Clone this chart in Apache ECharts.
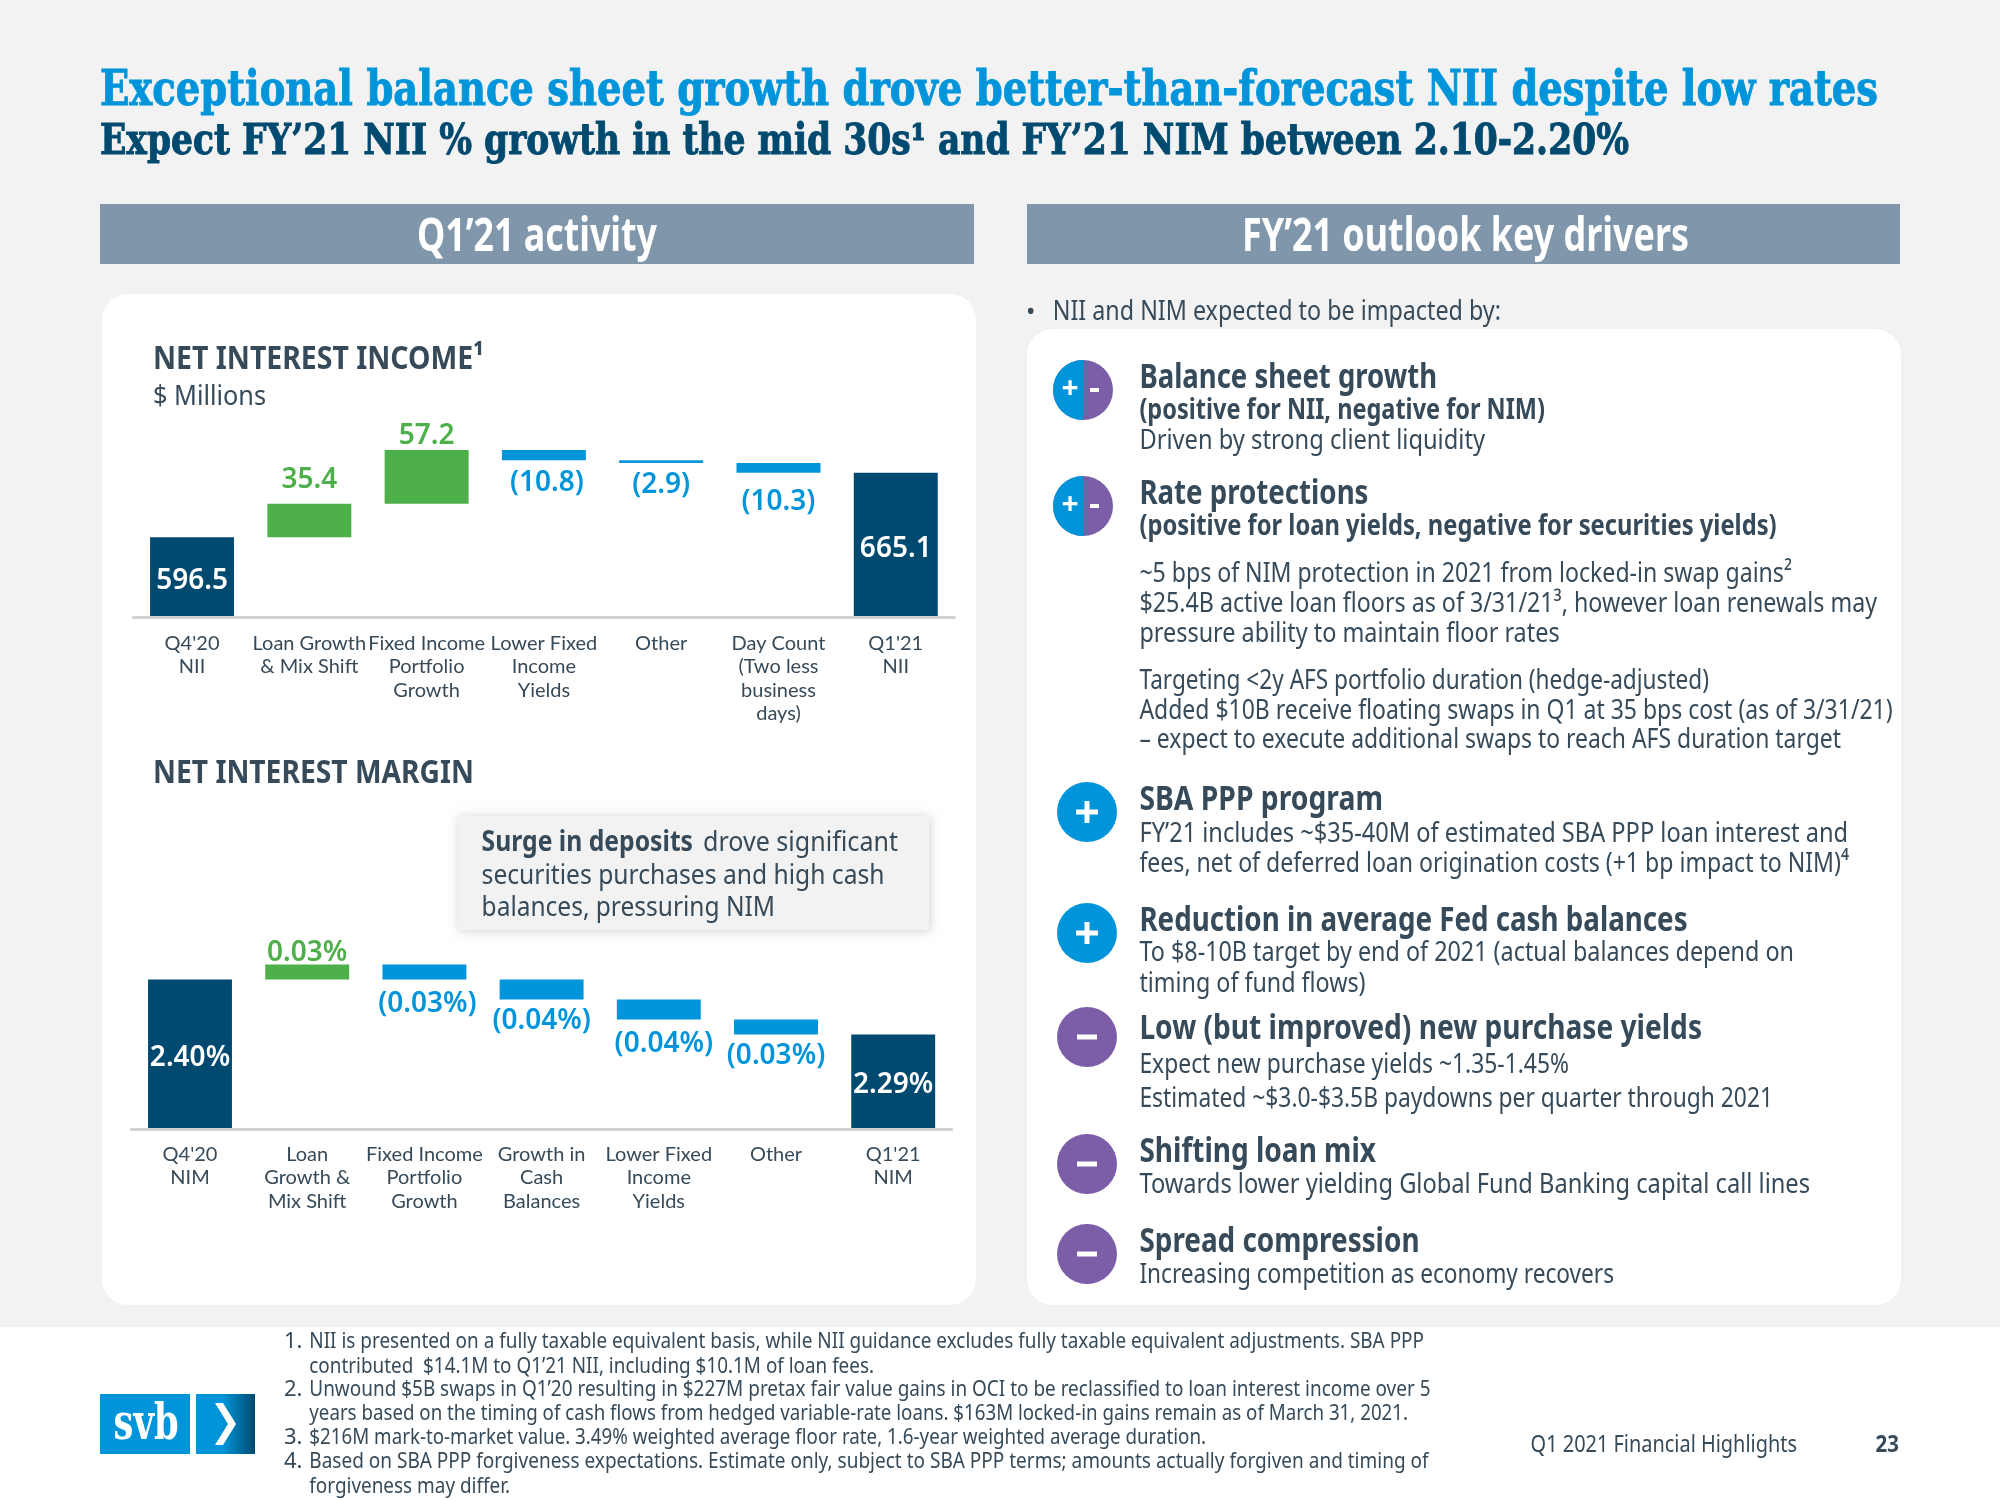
<!DOCTYPE html>
<html><head><meta charset="utf-8">
<style>html,body{margin:0;padding:0;background:#f2f2f2}#c{width:2000px;height:1500px}</style>
<script src="https://cdn.jsdelivr.net/npm/echarts@6/dist/echarts.min.js"></script>
</head><body><div id="c"></div>
<script>
// ---------- data ----------
const niiCategories = ["Q4'20\nNII","Loan Growth\n& Mix Shift","Fixed Income\nPortfolio\nGrowth","Lower Fixed\nIncome\nYields","Other","Day Count\n(Two less\nbusiness\ndays)","Q1'21\nNII"];
const niiBase     = [null,596.5,631.9,678.3,675.4,665.1,null];
const niiTotals   = [596.5,null,null,null,null,null,665.1];
const niiIncrease = [null,35.4,57.2,null,null,null,null];
const niiDecrease = [null,null,null,10.8,2.9,10.3,null];
const niiLabels   = ["596.5","35.4","57.2","(10.8)","(2.9)","(10.3)","665.1"];

const nimCategories = ["Q4'20\nNIM","Loan\nGrowth &\nMix Shift","Fixed Income\nPortfolio\nGrowth","Growth in\nCash\nBalances","Lower Fixed\nIncome\nYields","Other","Q1'21\nNIM"];
const nimBase     = [null,2.40,2.40,2.36,2.32,2.29,null];
const nimTotals   = [2.40,null,null,null,null,null,2.29];
const nimIncrease = [null,0.03,null,null,null,null,null];
const nimDecrease = [null,null,0.03,0.04,0.04,0.03,null];
const nimLabels   = ["2.40%","0.03%","(0.03%)","(0.04%)","(0.04%)","(0.03%)","2.29%"];

// ---------- label placement (layout only) ----------
const niiLabelDist = [0,12,3,8,7,14,0];
const niiLabelDx   = [0,0,0,3,0,0,0];
const niiLabelDy   = [4,1,2,2,2,2,4];
const nimLabelDist = [0,0,9,6,9,6,0];
const nimLabelDx   = [0,0,3,0,5,0,0];
const nimLabelDy   = [3,1,2,2,2,2,3];

// ---------- palette ----------
const NAVY='#004A70', BLUE='#0095DA', GREEN='#4DB04A', PURPLE='#7B5EA7', INK='#364A59', BAND='#7F96AB', BG='#F2F2F2';
const SANS='"Noto Sans"', SERIF='"DejaVu Serif"';

// ---------- fitted text helper ----------
const mctx=document.createElement('canvas').getContext('2d');
function T(x,base,text,size,color,weight,right,dy,stroke){
  const w=weight||'normal';
  const fam=T.family||SANS;
  mctx.font=w+' '+size+'px '+fam;
  const m=mctx.measureText(text).width;
  const st={text:text,x:0,y:0,fill:color||INK,fontFamily:fam.replace(/"/g,''),fontSize:size,fontWeight:w,textAlign:'left',textVerticalAlign:'middle'};
  if(stroke){st.stroke=color;st.lineWidth=stroke;}
  return {type:'text',x:x,y:base-0.36*size+(dy==null?2:dy),scaleX:right?(right-x)/m:1,z:20,silent:true,style:st};
}
function Tserif(x,base,text,size,color,weight,right,dy,stroke){T.family=SERIF;const r=T(x,base,text,size,color,weight,right,dy,stroke);T.family=SANS;return r;}
function C(cx,cy,text,size,color,weight){
  return {type:'text',x:cx,y:cy,z:22,silent:true,style:{text:text,fill:color,fontFamily:'Noto Sans',fontSize:size,fontWeight:weight||'bold',textAlign:'center',textVerticalAlign:'middle'}};
}
function R(x,y,w,h,fill,r,extra){
  return {type:'rect',z:1,silent:true,shape:{x:x,y:y,width:w,height:h,r:r||0},style:Object.assign({fill:fill},extra||{})};
}
function icon(cx,cy,kind){
  const r=30, out=[];
  if(kind==='both'){
    out.push({type:'circle',z:5,silent:true,shape:{cx:cx,cy:cy,r:r},style:{fill:PURPLE}});
    out.push({type:'sector',z:6,silent:true,shape:{cx:cx,cy:cy,r:r,r0:0,startAngle:Math.PI/2,endAngle:Math.PI*1.5},style:{fill:BLUE}});
    out.push(C(cx-13,cy-1,'+',30,'#fff','bold'));
    const d=R(cx+7,cy-2,9,4,'#fff');d.z=22;out.push(d);
  }else{
    out.push({type:'circle',z:5,silent:true,shape:{cx:cx,cy:cy,r:r},style:{fill:kind==='+'?BLUE:PURPLE}});
    if(kind==='+'){
      const a=R(cx-11,cy-2.5,22,5,'#fff'),b=R(cx-2.5,cy-11,5,22,'#fff');a.z=b.z=22;out.push(a,b);
    }else{
      const a=R(cx-10,cy-2.5,20,5,'#fff');a.z=22;out.push(a);
    }
  }
  return out;
}

// ---------- slide furniture ----------
const g=[];
g.push(R(0,1327,2000,173,'#FFFFFF'));
g.push(R(100,204,874,60,BAND));
g.push(R(1027,204,873,60,BAND));
g.push(R(102,294,874,1011,'#FFFFFF',26));
g.push(R(1027,329,874,976,'#FFFFFF',26));
{const s=R(458,816,471,114,BG,0,{shadowBlur:10,shadowColor:'rgba(0,0,0,0.18)',shadowOffsetX:1,shadowOffsetY:1});s.z=3;g.push(s);}
// titles
g.push(Tserif(100,105,'Exceptional balance sheet growth drove better-than-forecast NII despite low rates',48,BLUE,'bold',1878,5,1));
g.push(Tserif(100,154,'Expect FY’21 NII % growth in the mid 30s¹ and FY’21 NIM between 2.10-2.20%',42,NAVY,'bold',1629,4,1));
g.push(T(417,250,'Q1’21 activity',46,'#FFFFFF','bold',657,4));
g.push(T(1242,250,'FY’21 outlook key drivers',46,'#FFFFFF','bold',1689,4));
// left text
g.push(T(153,369,'NET INTEREST INCOME¹',33,INK,'bold',484));
g.push(T(153,404,'$ Millions',28,INK,'normal',266,3));
g.push(T(153,782,'NET INTEREST MARGIN',33,INK,'bold',474,3));
g.push(T(481.6,850,'Surge in deposits',28,INK,'bold',693,3));
g.push(T(703,850,'drove significant',28,INK,'normal',898,3));
g.push(T(481.6,883,'securities purchases and high cash',28,INK,'normal',884.5,3));
g.push(T(481.6,915,'balances, pressuring NIM',28,INK,'normal',775,3));
// right text
g.push(T(1026,319,'•',25,INK,'normal',null,3));
g.push(T(1052.7,319,'NII and NIM expected to be impacted by:',28,INK,'normal',1501,3));
const RX=1139.4;
[
 [387,'Balance sheet growth',34,'bold',1437,4],
 [418,'(positive for NII, negative for NIM)',28,'bold',1545,3],
 [448,'Driven by strong client liquidity',28,'normal',1485,3],
 [503,'Rate protections',34,'bold',1368.5,4],
 [534,'(positive for loan yields, negative for securities yields)',28,'bold',1776.6,3],
 [581.7,'~5 bps of NIM protection in 2021 from locked-in swap gains²',28,'normal',1792,2],
 [611.7,'$25.4B active loan floors as of 3/31/21³, however loan renewals may',28,'normal',1877,2],
 [641.7,'pressure ability to maintain floor rates',28,'normal',1559.6,2],
 [688,'Targeting <2y AFS portfolio duration (hedge-adjusted)',28,'normal',1709,3],
 [718,'Added $10B receive floating swaps in Q1 at 35 bps cost (as of 3/31/21)',28,'normal',1892.6,3],
 [748,'– expect to execute additional swaps to reach AFS duration target',28,'normal',1841,2],
 [809,'SBA PPP program',34,'bold',1383,4],
 [842,'FY’21 includes ~$35-40M of estimated SBA PPP loan interest and',28,'normal',1848,2],
 [872,'fees, net of deferred loan origination costs (+1 bp impact to NIM)⁴',28,'normal',1849,2],
 [930,'Reduction in average Fed cash balances',34,'bold',1687.6,4],
 [961.6,'To $8-10B target by end of 2021 (actual balances depend on',28,'normal',1794,2],
 [991.7,'timing of fund flows)',28,'normal',1365.6,2],
 [1038,'Low (but improved) new purchase yields',34,'bold',1702,4],
 [1073.5,'Expect new purchase yields ~1.35-1.45%',28,'normal',1569,2],
 [1107,'Estimated ~$3.0-$3.5B paydowns per quarter through 2021',28,'normal',1773,2],
 [1161,'Shifting loan mix',34,'bold',1376,3.5],
 [1193,'Towards lower yielding Global Fund Banking capital call lines',28,'normal',1810,2],
 [1251,'Spread compression',34,'bold',1419.5,4],
 [1283,'Increasing competition as economy recovers',28,'normal',1614,2]
].forEach(l=>g.push(T(RX,l[0],l[1],l[2],INK,l[3],l[4],l[5])));
g.push(...icon(1083,390,'both'),...icon(1083,506,'both'),...icon(1087,812,'+'),...icon(1087,933,'+'),...icon(1087,1037,'-'),...icon(1087,1164,'-'),...icon(1087,1254,'-'));
// footnotes
[
 [1349,'1.','NII is presented on a fully taxable equivalent basis, while NII guidance excludes fully taxable equivalent adjustments. SBA PPP',1424],
 [1374,'','contributed  $14.1M to Q1’21 NII, including $10.1M of loan fees.',874],
 [1397,'2.','Unwound $5B swaps in Q1’20 resulting in $227M pretax fair value gains in OCI to be reclassified to loan interest income over 5',1430.5],
 [1421,'','years based on the timing of cash flows from hedged variable-rate loans. $163M locked-in gains remain as of March 31, 2021.',1408],
 [1445,'3.','$216M mark-to-market value. 3.49% weighted average floor rate, 1.6-year weighted average duration.',1206],
 [1469,'4.','Based on SBA PPP forgiveness expectations. Estimate only, subject to SBA PPP terms; amounts actually forgiven and timing of',1428.6],
 [1494,'','forgiveness may differ.',510]
].forEach(l=>{ if(l[1]) g.push(T(284,l[0],l[1],22,INK,'normal',null,1)); g.push(T(309.3,l[0],l[2],22,INK,'normal',l[3],1)); });
g.push(T(1530.6,1451,'Q1 2021 Financial Highlights',23,INK,'normal',1797,2.5));
g.push(T(1875.6,1453,'23',24,INK,'bold',1899,1));
// logo
g.push(R(100,1394,90,60,BLUE));
g.push(R(196,1394,59,60,{type:'linear',x:0,y:0,x2:1,y2:0,colorStops:[{offset:0,color:BLUE},{offset:0.45,color:BLUE},{offset:1,color:NAVY}]}));
g.push(Tserif(113.5,1441,'svb',50,'#FFFFFF','bold',178.6,3));
g.push({type:'polygon',z:20,silent:true,shape:{points:[[215,1403],[223,1403],[236,1424],[223,1445],[215,1445],[228,1424]]},style:{fill:'#FFFFFF'}});

// ---------- charts ----------
function labelFor(texts,dist,dx,dy,color,pos,idx){
  return {show:true,position:pos,distance:dist[idx],offset:[dx[idx],dy[idx]],formatter:texts[idx],color:color,
    fontFamily:'Noto Sans',fontSize:28,fontWeight:600,lineHeight:26};
}
function items(arr,texts,dist,dx,dy,color,pos){
  return arr.map((v,i)=>v==null?null:{value:v,label:labelFor(texts,dist,dx,dy,color,pos,i)});
}
function series(idx,base,totals,inc,dec,texts,dist,dx,dy){
  const common={type:'bar',stack:'w'+idx,xAxisIndex:idx,yAxisIndex:idx,barWidth:'71.6%',animation:false,silent:true};
  return [
    Object.assign({name:'base'+idx,data:base,itemStyle:{color:'transparent'}},common),
    Object.assign({name:'total'+idx,data:items(totals,texts,dist,dx,dy,'#FFFFFF','inside'),itemStyle:{color:NAVY}},common),
    Object.assign({name:'increase'+idx,data:items(inc,texts,dist,dx,dy,GREEN,'top'),itemStyle:{color:GREEN}},common),
    Object.assign({name:'decrease'+idx,data:items(dec,texts,dist,dx,dy,BLUE,'bottom'),itemStyle:{color:BLUE}},common)
  ];
}
function xAxis(idx,cats,margin){
  return {gridIndex:idx,type:'category',data:cats,z:10,
    axisLine:{show:true,lineStyle:{color:'#D2D2D2',width:3}},axisTick:{show:false},
    axisLabel:{interval:0,margin:margin,color:INK,fontFamily:'Lato',fontSize:20,lineHeight:23.5}};
}
const option={
  backgroundColor:BG,animation:false,
  grid:[
    {left:133.4,width:821,top:429.5,height:188},
    {left:131.4,width:820.4,top:929.6,height:200}
  ],
  xAxis:[xAxis(0,niiCategories,14),xAxis(1,nimCategories,13)],
  yAxis:[
    {gridIndex:0,type:'value',min:511,max:711,show:false},
    {gridIndex:1,type:'value',min:2.10,max:2.50,show:false}
  ],
  series:[...series(0,niiBase,niiTotals,niiIncrease,niiDecrease,niiLabels,niiLabelDist,niiLabelDx,niiLabelDy),
          ...series(1,nimBase,nimTotals,nimIncrease,nimDecrease,nimLabels,nimLabelDist,nimLabelDx,nimLabelDy)],
  graphic:{elements:g}
};
const chart=echarts.init(document.getElementById('c'),null,{renderer:'canvas',width:2000,height:1500});
chart.setOption(option);
</script></body></html>
